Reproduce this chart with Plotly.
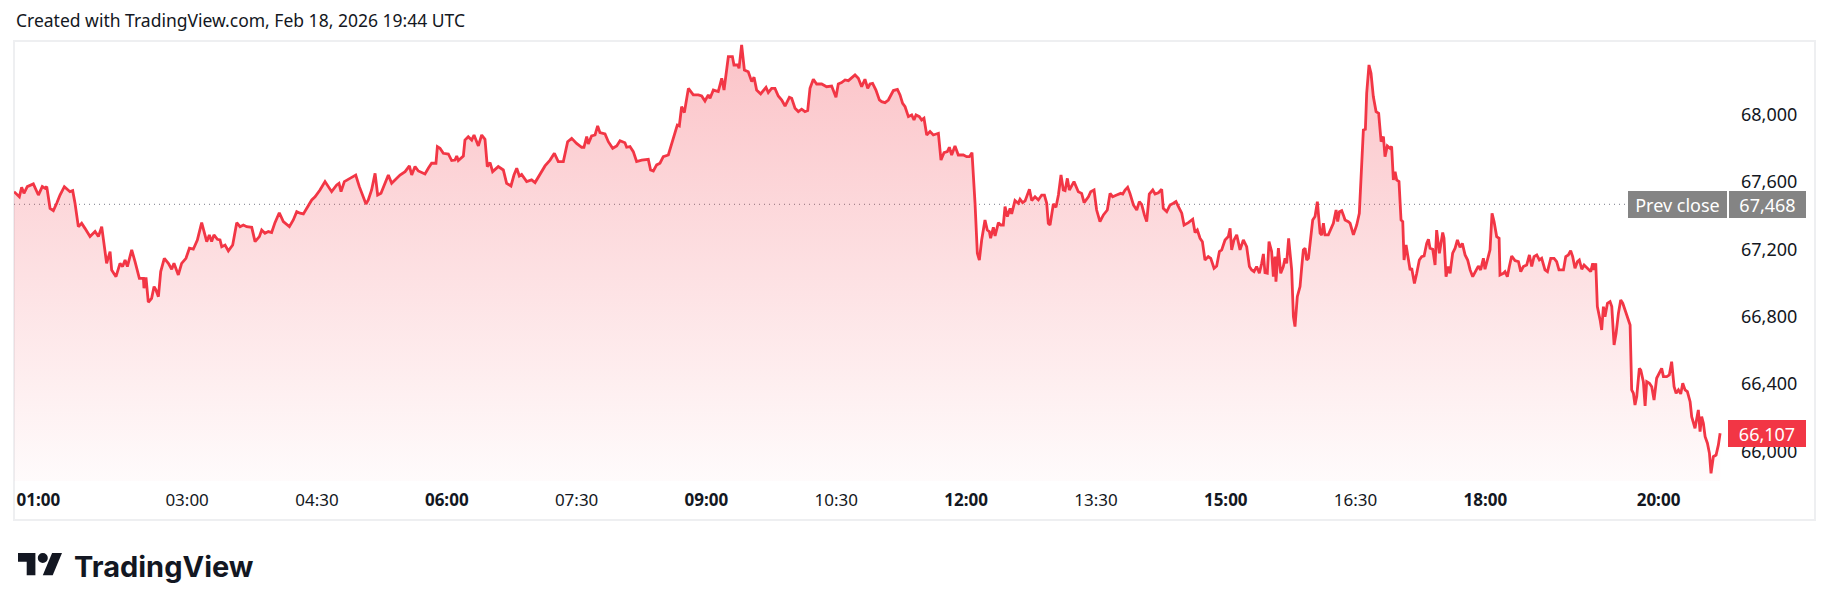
import datetime as dt
import plotly.graph_objects as go

# ---------------- data (minutes after 01:00 local, price) ----------------
seg_a_min = [0, 3.7, 5.3, 6.9, 9.2, 13.4, 16.9, 19.6, 21.5, 22.7,
             25.0, 27.3, 29.6, 31.9, 34.9, 38.8, 40.7, 42.3, 44.6, 46.9,
             49.2, 52.7, 56.2, 58.5, 60.8, 64.2, 66.6, 67.7, 70.7, 73.5,
             75.3, 77.0, 78.6, 81.6, 83.9, 86.9, 89.7, 90.1, 91.5, 93.1,
             95.4, 97.1, 98.4, 100.1, 101.7, 104.2, 107.0, 109.3, 110.9, 113.9,
             116.2, 119.2, 121.6, 124.3, 127.1, 130.1, 133.6, 135.4, 137.0, 138.6,
             141.0, 142.8, 144.0, 146.3, 148.6, 151.6, 154.4, 156.7, 159.0, 161.3,
             164.8, 167.1, 170.1, 171.7, 174.0, 176.3, 178.6, 180.9, 183.9, 186.7,
             190.9, 193.6, 196.0, 198.3, 200.6, 203.6, 206.4, 208.7, 212.1, 215.6,
             217.9, 220.2, 223.7, 225.3, 226.7, 229.0, 232.9, 236.9, 239.4, 241.0,
             244.0, 245.6, 247.9, 250.3, 252.1, 254.4, 257.2, 259.5, 261.8, 264.1,
             267.6, 271.1, 274.1, 275.7, 278.0, 280.3, 284.9, 287.2, 289.5, 292.5,
             293.5, 295.3, 297.6, 301.1]
seg_a_price = [67543, 67513, 67569, 67533, 67573, 67589, 67523, 67573, 67563, 67573,
               67444, 67430, 67474, 67523, 67573, 67543, 67549, 67474, 67335, 67355,
               67325, 67276, 67306, 67276, 67335, 67117, 67187, 67078, 67038, 67117,
               67098, 67137, 67098, 67197, 67127, 67028, 67028, 66969, 67034, 66886,
               66909, 66979, 66959, 66919, 67068, 67147, 67117, 67082, 67117, 67048,
               67117, 67147, 67207, 67201, 67256, 67359, 67246, 67286, 67246, 67286,
               67260, 67256, 67216, 67226, 67191, 67226, 67359, 67335, 67345, 67335,
               67331, 67246, 67276, 67315, 67296, 67306, 67300, 67359, 67418, 67365,
               67335, 67375, 67424, 67415, 67411, 67454, 67494, 67513, 67553, 67603,
               67573, 67543, 67583, 67593, 67543, 67603, 67622, 67642, 67573, 67533,
               67470, 67494, 67553, 67652, 67523, 67533, 67593, 67642, 67593, 67613,
               67642, 67662, 67696, 67642, 67692, 67666, 67648, 67682, 67712, 67712,
               67811, 67801, 67771, 67767]

seg_b_min = [303.4, 305.7, 306.9, 308.0, 311.5, 312.6, 314.9, 317.3, 318.9, 321.9,
             324.2, 326.5, 328.1, 330.0, 331.8, 335.7, 339.2, 341.5, 344.5, 346.6,
             348.5, 350.3, 351.9, 355.4, 358.8, 361.2, 364.6, 368.1, 371.6, 374.6,
             377.3, 380.8, 383.8, 386.6, 390.0, 393.5, 395.1, 397.0, 398.1, 400.4,
             402.8, 404.6, 406.2, 409.7, 412.0, 415.0, 417.8, 420.1, 423.5, 424.7,
             427.0, 429.3, 431.6, 435.1, 439.7, 441.3, 443.2, 445.5, 447.8, 450.1,
             453.6, 457.1, 459.8, 461.2, 462.8, 464.7, 467.5, 470.9, 474.4, 476.7,
             479.0, 481.3, 482.5, 484.8, 488.2, 490.6, 492.2, 495.2, 498.0, 499.1,
             501.7, 502.6, 504.4, 506.3, 509.0, 511.4, 513.0, 514.8, 517.6, 521.3,
             522.9, 525.2, 527.5, 529.8, 532.2, 534.5, 537.5, 539.1, 541.4, 543.7,
             546.0, 548.3, 550.2, 551.8, 554.1, 556.4, 559.9, 563.3, 566.8, 569.8,
             571.4, 573.7, 576.1, 578.4, 580.0, 583.0, 585.3, 587.6, 589.9, 591.8,
             593.4, 595.2, 597.5, 599.9]
seg_b_price = [67728, 67731, 67755, 67728, 67755, 67850, 67870, 67850, 67880, 67815,
               67880, 67854, 67692, 67716, 67662, 67692, 67672, 67593, 67577, 67642,
               67682, 67636, 67646, 67603, 67613, 67597, 67642, 67696, 67731, 67771,
               67722, 67722, 67840, 67860, 67830, 67807, 67807, 67870, 67827, 67874,
               67880, 67934, 67894, 67886, 67840, 67801, 67815, 67846, 67834, 67807,
               67811, 67781, 67722, 67731, 67735, 67672, 67666, 67702, 67712, 67751,
               67761, 67870, 67939, 67934, 68048, 68013, 68157, 68118, 68118, 68112,
               68082, 68118, 68098, 68147, 68138, 68217, 68147, 68346, 68346, 68296,
               68296, 68276, 68415, 68266, 68256, 68197, 68223, 68147, 68124, 68163,
               68132, 68157, 68157, 68112, 68088, 68052, 68104, 68098, 68039, 68019,
               68033, 68019, 68025, 68157, 68211, 68183, 68183, 68167, 68171, 68104,
               68183, 68191, 68207, 68203, 68217, 68237, 68217, 68167, 68211, 68157,
               68183, 68187, 68147, 68088]

seg_c_min = [601.5, 603.8, 606.1, 609.6, 612.4, 614.2, 616.0, 617.7, 620.0, 622.3,
             623.9, 625.3, 627.6, 629.2, 630.8, 632.7, 635.0, 637.3, 640.8, 642.6,
             644.7, 647.0, 648.4, 650.0, 652.3, 654.6, 658.1, 660.4, 662.3, 664.1,
             666.2, 667.8, 669.2, 670.8, 673.1, 674.7, 676.1, 677.0, 678.9, 680.1,
             682.4, 684.0, 685.8, 687.0, 688.6, 690.5, 691.6, 693.9, 696.2, 697.4,
             699.2, 700.9, 703.9, 705.5, 707.8, 710.1, 712.4, 714.3, 715.9, 717.0,
             718.2, 720.5, 722.3, 724.0, 725.8, 727.4, 728.6, 730.2, 731.6, 734.8,
             737.8, 740.1, 741.8, 744.8, 746.4, 748.7, 750.5, 752.8, 755.2, 757.9,
             759.8, 761.6, 764.4, 767.2, 768.6, 770.2, 772.0, 773.6, 776.0, 778.3,
             780.1, 781.7, 783.6, 785.2, 787.0, 789.4, 791.0, 793.3, 795.6, 796.7,
             799.1, 801.4, 803.7, 805.5, 807.8, 809.5, 811.1, 814.1, 817.1, 818.7,
             820.3, 822.2, 823.8, 825.6, 827.9, 829.6, 831.9, 833.7, 835.6, 837.2,
             839.5, 841.8, 843.0, 844.1, 845.7, 847.6, 849.9, 852.2, 854.5, 856.4,
             858.0, 859.6, 861.4, 863.3, 864.9, 866.1, 867.2, 868.8, 870.0, 871.8,
             873.0, 874.2, 874.8, 876.5, 878.1, 879.9, 881.1, 882.2, 883.6, 885.7,
             886.9, 888.0, 889.6, 891.5]
seg_c_price = [68078, 68072, 68088, 68144, 68151, 68118, 68068, 68048, 67989, 67999,
               67969, 67999, 67989, 67969, 67979, 67880, 67900, 67880, 67890, 67731,
               67775, 67781, 67807, 67761, 67815, 67761, 67761, 67751, 67751, 67775,
               67474, 67177, 67137, 67256, 67375, 67315, 67306, 67266, 67331, 67280,
               67359, 67345, 67345, 67454, 67395, 67444, 67411, 67490, 67474, 67498,
               67478, 67488, 67557, 67490, 67513, 67494, 67523, 67523, 67474, 67355,
               67345, 67470, 67450, 67523, 67642, 67553, 67549, 67622, 67553, 67603,
               67543, 67533, 67478, 67513, 67543, 67553, 67434, 67365, 67405, 67434,
               67533, 67513, 67523, 67533, 67529, 67553, 67569, 67533, 67464, 67434,
               67484, 67468, 67405, 67365, 67529, 67553, 67529, 67537, 67557, 67444,
               67424, 67464, 67474, 67484, 67444, 67415, 67345, 67359, 67379, 67300,
               67315, 67266, 67246, 67137, 67157, 67147, 67088, 67101, 67187, 67197,
               67256, 67276, 67325, 67197, 67256, 67286, 67197, 67256, 67216, 67098,
               67078, 67068, 67098, 67058, 67117, 67173, 67062, 67058, 67246, 67187,
               67038, 67157, 67008, 67207, 67058, 67098, 67147, 67117, 67266, 67078,
               66800, 66741, 66919, 66979]

seg_d_min = [892.7, 893.8, 895.0, 896.1, 897.3, 898.4, 900.3, 901.9, 903.5, 905.4,
             906.5, 907.7, 908.8, 911.1, 912.8, 914.6, 916.5, 917.6, 918.8, 920.4,
             921.5, 922.7, 925.0, 926.2, 928.5, 930.8, 932.6, 933.8, 935.4, 936.8,
             937.7, 939.3, 940.7, 942.3, 944.2, 946.0, 947.7, 949.3, 950.4, 952.0,
             953.9, 955.0, 956.2, 957.4, 958.5, 960.1, 961.5, 962.7, 963.6, 965.0,
             966.1, 967.8, 968.9, 970.8, 972.4, 974.2, 975.8, 977.5, 979.3, 980.5,
             981.6, 983.5, 985.1, 986.2, 988.1, 990.4, 991.3, 992.7, 994.3, 995.5,
             997.3, 999.0, 1000.6, 1002.4, 1004.0, 1005.9, 1007.7, 1009.4, 1011.2, 1013.5,
             1015.1, 1016.7, 1018.6, 1019.7, 1021.4, 1023.2, 1024.6, 1026.0, 1027.8, 1029.5,
             1030.1, 1032.5, 1033.6, 1035.2, 1036.6, 1038.2, 1040.5, 1042.9, 1044.5, 1046.3,
             1048.6, 1050.5, 1052.1, 1053.7, 1055.6, 1057.4, 1059.0, 1061.3, 1063.0, 1065.3,
             1067.6, 1069.4, 1071.0, 1074.1, 1075.7, 1077.5, 1079.1, 1080.5, 1082.1, 1083.8,
             1085.1, 1086.8, 1088.4, 1090.7, 1093.0, 1094.4, 1095.3, 1096.5, 1097.6, 1099.5,
             1100.6, 1101.8, 1102.9, 1104.6, 1106.4, 1107.6, 1109.2, 1110.6, 1112.2, 1113.8,
             1115.2, 1116.8, 1118.4, 1120.3, 1121.4, 1122.6, 1123.7, 1124.9, 1126.7, 1127.7,
             1129.5, 1130.7, 1131.8, 1133.7, 1135.3, 1136.9, 1138.7, 1140.6, 1142.2, 1143.4,
             1145.7, 1147.5, 1149.1, 1150.8, 1152.2, 1153.8, 1155.4, 1156.8, 1158.4, 1160.0,
             1161.9, 1163.0, 1165.3, 1167.6, 1168.8, 1169.9, 1171.1, 1172.3, 1173.9, 1175.3,
             1176.4, 1178.0, 1179.9, 1181.5, 1182.7]
seg_d_price = [67098, 67197, 67207, 67137, 67147, 67236, 67375, 67395, 67484, 67296,
               67286, 67355, 67286, 67286, 67325, 67355, 67434, 67365, 67424, 67430,
               67405, 67375, 67365, 67355, 67286, 67345, 67415, 67632, 67910, 67914,
               68128, 68296, 68247, 68108, 68019, 68009, 67840, 67870, 67751, 67815,
               67801, 67811, 67613, 67662, 67613, 67603, 67375, 67365, 67137, 67226,
               67177, 67078, 67088, 66998, 67058, 67137, 67157, 67161, 67236, 67260,
               67207, 67201, 67107, 67315, 67177, 67300, 67266, 67038, 67098, 67058,
               67177, 67207, 67256, 67212, 67236, 67167, 67137, 67078, 67038, 67078,
               67101, 67078, 67147, 67082, 67147, 67197, 67415, 67365, 67276, 67266,
               67048, 67058, 67068, 67038, 67098, 67161, 67133, 67127, 67068, 67098,
               67107, 67167, 67098, 67157, 67167, 67137, 67147, 67078, 67068, 67147,
               67147, 67127, 67078, 67078, 67157, 67167, 67193, 67157, 67088, 67127,
               67137, 67082, 67107, 67088, 67068, 67117, 67078, 67117, 66860, 66781,
               66721, 66860, 66800, 66880, 66890, 66860, 66632, 66701, 66820, 66899,
               66880, 66840, 66800, 66751, 66365, 66345, 66275, 66325, 66493, 66483,
               66414, 66270, 66414, 66404, 66384, 66305, 66434, 66464, 66493, 66444,
               66444, 66454, 66533, 66384, 66345, 66365, 66341, 66404, 66365, 66355,
               66295, 66206, 66137, 66246, 66117, 66206, 66166, 66087, 66048, 65988,
               65869, 65968, 65978, 66038, 66107]

prev_close = 67468
last_price = 66107
y_ticks = [66000, 66400, 66800, 67200, 67600, 68000]
x_tick_labels = ["01:00", "03:00", "04:30", "06:00", "07:30", "09:00", "10:30",
                 "12:00", "13:30", "15:00", "16:30", "18:00", "20:00"]
x_tick_bold = ["01:00", "06:00", "09:00", "12:00", "15:00", "18:00", "20:00"]
header_text = "Created with TradingView.com, Feb 18, 2026 19:44 UTC"

# ---------------- layout geometry ----------------
W, H = 1830, 611
PL, PR, PT, PB = 14, 1738, 41, 481          # plot area in pixels
Y_MIN, Y_MAX = 65823.5, 68438.5
X_SPAN_MIN = 1195.1
session_start = dt.datetime(2026, 2, 18, 1, 0)

FONT = "Noto Sans, Open Sans, sans-serif"
TXT = "#131722"
RED = "#f23645"


def fx(p):
    return (p - PL) / (PR - PL)


def fy(p):
    return (PB - p) / (PB - PT)


minutes = seg_a_min + seg_b_min + seg_c_min + seg_d_min
prices = seg_a_price + seg_b_price + seg_c_price + seg_d_price
times = [session_start + dt.timedelta(minutes=m) for m in minutes]

fig = go.Figure()
fig.add_trace(go.Scatter(
    x=times, y=prices, mode="lines",
    line=dict(color=RED, width=2.8),
    fill="tozeroy",
    fillgradient=dict(type="vertical",
                      colorscale=[[0, "rgba(242,54,69,0.02)"], [1, "rgba(242,54,69,0.30)"]],
                      start=Y_MIN, stop=Y_MAX),
    hoverinfo="skip", showlegend=False))

# ticks
tick_vals = []
tick_text = []
for lab in x_tick_labels:
    h, m = map(int, lab.split(":"))
    tick_vals.append(dt.datetime(2026, 2, 18, h, m))
    t = f"<b>{lab}</b>" if lab in x_tick_bold else lab
    if lab == "01:00":
        t = "\u00a0" * 11 + t
    tick_text.append(t)

fig.update_xaxes(
    type="date", automargin=False,
    range=[session_start, session_start + dt.timedelta(minutes=X_SPAN_MIN)],
    tickvals=tick_vals, ticktext=tick_text,
    showgrid=False, zeroline=False, showline=False, ticks="",
    tickfont=dict(family=FONT, size=17, color=TXT),
    ticklabelstandoff=7, ticklabeloverflow="allow", fixedrange=True)

fig.update_yaxes(
    range=[Y_MIN, Y_MAX], side="right", automargin=False,
    tickvals=y_ticks, ticktext=[f"{v:,}" for v in y_ticks],
    showgrid=False, zeroline=False, showline=False, ticks="",
    tickfont=dict(family=FONT, size=18, color=TXT),
    ticklabelstandoff=2, ticklabeloverflow="allow", fixedrange=True)

shapes = []
# outer frame
shapes.append(dict(type="rect", xref="paper", yref="paper",
                   x0=fx(14), x1=fx(1815), y0=fy(520), y1=fy(41),
                   line=dict(color="#eeeff1", width=2), layer="below"))
# previous close dotted line
shapes.append(dict(type="line", xref="paper", yref="y",
                   x0=0, x1=fx(1626), y0=prev_close, y1=prev_close,
                   line=dict(color="#787b86", width=1, dash="1px,4px"), layer="between"))


def logo_path(pts):
    return "M " + " L ".join(f"{fx(x):.6f},{fy(y):.6f}" for x, y in pts) + " Z"


# TradingView logo glyph
shapes.append(dict(type="path", xref="paper", yref="paper",
                   path=logo_path([(18, 553), (35.4, 553), (35.4, 575.3), (26.7, 575.3),
                                   (26.7, 561.7), (18, 561.7)]),
                   fillcolor=TXT, line=dict(width=0)))
shapes.append(dict(type="circle", xref="paper", yref="paper",
                   x0=fx(37.8), x1=fx(47.8), y0=fy(563), y1=fy(553),
                   fillcolor=TXT, line=dict(width=0)))
shapes.append(dict(type="path", xref="paper", yref="paper",
                   path=logo_path([(52.7, 575.3), (42.8, 575.3), (52.1, 553), (62, 553)]),
                   fillcolor=TXT, line=dict(width=0)))

annotations = [
    dict(text=header_text, xref="paper", yref="paper", x=fx(14), y=fy(20),
         xanchor="left", yanchor="middle", showarrow=False,
         font=dict(family=FONT, size=17.5, color=TXT)),
    dict(text="<b>TradingView</b>", xref="paper", yref="paper", x=fx(72), y=fy(566),
         xanchor="left", yanchor="middle", showarrow=False,
         font=dict(family="Inter, Roboto, sans-serif", size=29, color=TXT)),
    dict(text="Prev close", xref="paper", yref="y", x=fx(1677.5), y=prev_close,
         xanchor="center", yanchor="middle", showarrow=False,
         width=99, height=27, borderpad=0, borderwidth=0, bgcolor="#848484",
         font=dict(family=FONT, size=18, color="white")),
    dict(text=f"{prev_close:,}", xref="paper", yref="y", x=fx(1767.5), y=prev_close,
         xanchor="center", yanchor="middle", showarrow=False,
         width=77, height=27, borderpad=0, borderwidth=0, bgcolor="#848484",
         font=dict(family=FONT, size=18, color="white")),
    dict(text=f"{last_price:,}", xref="paper", yref="y", x=fx(1767), y=last_price,
         xanchor="center", yanchor="middle", showarrow=False,
         width=78, height=27, borderpad=0, borderwidth=0, bgcolor=RED,
         font=dict(family=FONT, size=18, color="white")),
]

fig.update_layout(
    width=W, height=H, autosize=False,
    margin=dict(l=PL, r=W - PR, t=PT, b=H - PB, pad=0, autoexpand=False),
    paper_bgcolor="white", plot_bgcolor="white",
    shapes=shapes, annotations=annotations,
    hovermode=False, showlegend=False)

fig.write_html("out.html", config={"displayModeBar": False},
               post_script="document.body.style.margin='0';document.body.style.overflow='hidden';")
